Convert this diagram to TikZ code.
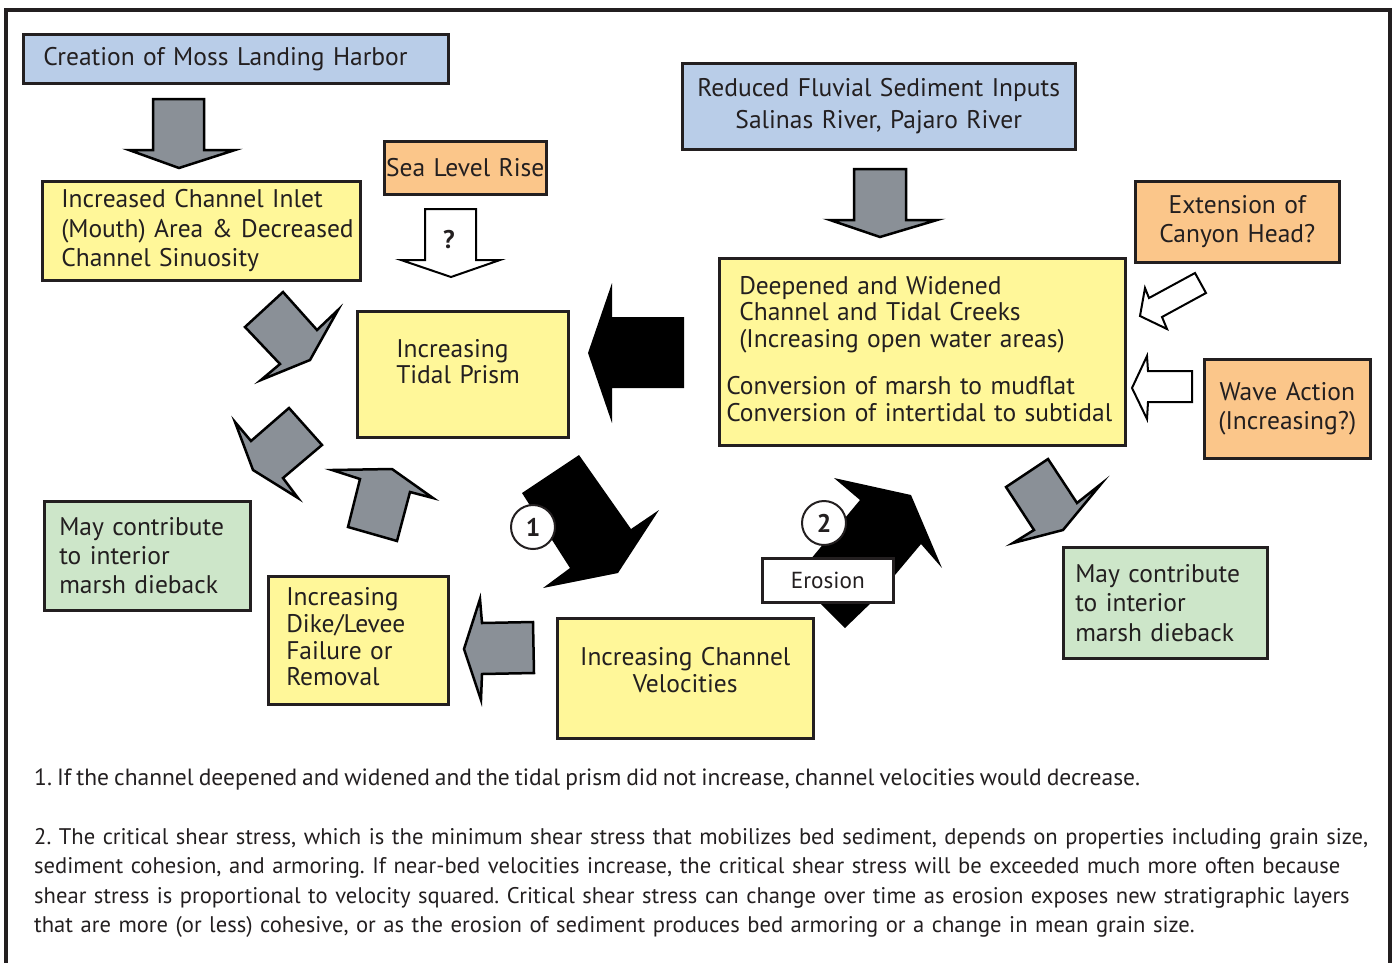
\documentclass[tikz,border=0pt]{standalone}
\usepackage{fontspec}
\setmainfont{PT Sans}[WordSpace=0.8]
\frenchspacing
\hyphenpenalty=10000

\definecolor{boxblue}{HTML}{B9CDE8}
\definecolor{boxorange}{HTML}{FBC68A}
\definecolor{boxyellow}{HTML}{FFF799}
\definecolor{boxgreen}{HTML}{CDE6C9}
\definecolor{arrowgray}{HTML}{8A9097}
\definecolor{inkdark}{HTML}{231F20}

\newcommand{\boxfont}[1][29pt]{\fontsize{25.5pt}{#1}\selectfont}
\newcommand{\notefont}[1][23.2pt]{\fontsize{#1}{29.5pt}\selectfont}
\newcommand{\lowpad}[1]{\rule[-#1]{0pt}{#1}}

\tikzset{
  box/.style={draw=inkdark, line width=2.5pt, anchor=north west,
    inner xsep=4pt, inner ysep=0pt, text=inkdark},
  frame/.style={draw=inkdark, line width=4pt},
  grayarrow/.style={fill=arrowgray, draw=black, line width=2.5pt, line join=miter},
  blackarrow/.style={fill=black},
  whitearrow/.style={fill=white, draw=black, line width=2pt, line join=miter},
  numcircle/.style={circle, draw=inkdark, line width=2pt, fill=white,
    minimum size=44pt, inner sep=0pt, font=\boxfont\bfseries, text=inkdark},
  note/.style={inner sep=0pt, text=inkdark},
}

\begin{document}
\begin{tikzpicture}[x=1pt, y=-1pt]
    %% Moss Landing channel feedbacks

    \useasboundingbox (0,0) rectangle (1395,962);
    \draw[frame] (6,975) -- (6,10) -- (1390,10) -- (1390,975);

    % Block arrows, left loop
    \draw[grayarrow] (153,99) -- (204,99) -- (204,150) -- (235,150) -- (179,168) -- (129,150) -- (153,150) -- cycle;
    \draw[whitearrow] (425,209) -- (476,209) -- (476,260) -- (500,260) -- (451,277) -- (401,260) -- (425,260) -- cycle;
    \draw[grayarrow] (283,292) -- (317,330) -- (338,310) -- (310,360) -- (261,380) -- (280,364) -- (245,327) -- cycle;
    \draw[grayarrow] (289,408) -- (322,445) -- (283,478) -- (298,498) -- (253,470) -- (235,422) -- (251,441) -- cycle;
    \draw[grayarrow] (332,470) -- (392,469) -- (433,498) -- (410,492) -- (397,541) -- (348,527) -- (360,479) -- cycle;
    \draw[grayarrow] (480,599) -- (482,623) -- (533,622) -- (534,673) -- (482,674) -- (481,700) -- (464,649) -- cycle;
    \fill[blackarrow] (684,317) -- (684,388) -- (612,388) -- (612,423) -- (588,353) -- (612,283) -- (612,317) -- cycle;
    \fill[blackarrow] (579,455) -- (631,529) -- (659,510) -- (618,573) -- (543,588) -- (570,568) -- (522,493) -- cycle;

    % Block arrows, right side
    \draw[grayarrow] (854,169) -- (906,169) -- (906,220) -- (937,220) -- (880,237) -- (830,220) -- (854,220) -- cycle;
    \fill[blackarrow] (834,478) -- (911,495) -- (942,568) -- (921,544) -- (874,600) -- (845,628) -- (795,578) -- (860,500) -- cycle;
    \draw[grayarrow] (1048,459) -- (1077,503) -- (1101,484) -- (1063,530) -- (1013,543) -- (1034,530) -- (1006,487) -- cycle;
    \draw[whitearrow] (1195,273) -- (1206,293) -- (1162,317) -- (1167,329) -- (1140,316) -- (1145,288) -- (1149,298) -- cycle;
    \draw[whitearrow] (1147,356) -- (1148,371) -- (1192,371) -- (1192,402) -- (1148,402) -- (1147,419) -- (1132,388) -- cycle;
    \node[font=\boxfont\bfseries, text=inkdark] (query) at (449,240) {?};

    % Boxes
    \node[box, fill=boxblue, text width=417pt, minimum height=49pt,
      align=left, font=\boxfont] (creation) at (22,33)
      {\leftskip=16pt Creation of Moss Landing Harbor\par};
    \node[box, fill=boxblue, text width=385pt, minimum height=86pt,
      align=center, font={\boxfont[32pt]}] (fluvial) at (681,62)
      {Reduced Fluvial Sediment Inputs\\Salinas River, Pajaro River};
    \node[box, fill=boxorange, text width=162pt, inner xsep=0pt, minimum height=53pt,
      align=center, font=\boxfont] (sealevel) at (383,140) {Sea Level Rise};
    \node[box, fill=boxyellow, text width=310pt, minimum height=99pt,
      align=left, font={\boxfont[29.5pt]}] (inlet) at (41,180)
      {\leftskip=15pt Increased Channel Inlet\\\mbox{(Mouth) Area \& Decreased}\\Channel Sinuosity\par};
    \node[box, fill=boxorange, text width=196pt, minimum height=81pt,
      align=center, font=\boxfont] (canyon) at (1134,180) {Extension of\\Canyon Head?};
    \node[box, fill=boxyellow, text width=203pt, minimum height=126pt,
      align=left, font={\boxfont[26pt]}] (prism) at (356,310)
      {\leftskip=35pt Increasing\\Tidal Prism\lowpad{26pt}\par};
    \node[box, fill=boxyellow, text width=398pt, minimum height=187pt,
      align=left, font={\boxfont[26.5pt]}] (deepened) at (718,257)
      {\leftskip=3pt
       \hspace*{13pt}Deepened and Widened\\
       \hspace*{13pt}Channel and Tidal Creeks\\
       \hspace*{13pt}(Increasing open water areas)\\[21pt]
       Conversion of marsh to mudflat\\
       Conversion of intertidal to subtidal\lowpad{6pt}\par};
    \node[box, fill=boxorange, text width=158pt, minimum height=99pt,
      align=center, font=\boxfont] (wave) at (1203,358) {Wave Action\\(Increasing?)};
    \node[box, fill=boxgreen, text width=198pt, minimum height=109pt,
      align=left, font=\boxfont] (diebackL) at (43,500)
      {\leftskip=11pt May contribute\\to interior\\marsh dieback\par};
    \node[box, fill=boxyellow, text width=172pt, minimum height=128pt,
      align=left, font={\boxfont[26.7pt]}] (dike) at (267,575)
      {\leftskip=14pt Increasing\\Dike/Levee\\Failure or\\Removal\lowpad{7pt}\par};
    \node[box, fill=boxyellow, text width=248pt, minimum height=120pt,
      align=center, font={\boxfont[27pt]}] (velocity) at (556,617)
      {Increasing Channel\\Velocities\lowpad{16pt}};
    \node[box, fill=white, text width=123pt, minimum height=44pt,
      align=center, font=\notefont] (erosion) at (761,557) {Erosion};
    \node[box, fill=boxgreen, text width=196pt, minimum height=111pt,
      align=left, font={\boxfont[29.5pt]}] (diebackR) at (1062,546)
      {\leftskip=8pt May contribute\\to interior\\marsh dieback\par};

    % Numbers
    \node[numcircle] (one) at (533,527) {1};
    \node[numcircle] (two) at (824,523) {2};

    % Notes
    \node[note, font={\notefont[23.5pt]}, anchor=base west] (note1) at (34,785)
      {1. If the channel deepened and widened and the tidal prism did not increase, channel velocities would decrease.};
    \node[note, font={\notefont[22.6pt]}, anchor=base west, text width=1400pt, align=left] (note2) at (34,844)
      {2. The critical shear stress, which is the minimum shear stress that mobilizes bed sediment, depends on properties including grain size,\\
       sediment cohesion, and armoring. If near-bed velocities increase, the critical shear stress will be exceeded much more often because\\
       shear stress is proportional to velocity squared. Critical shear stress can change over time as erosion exposes new stratigraphic layers\\
       that are more (or less) cohesive, or as the erosion of sediment produces bed armoring or a change in mean grain size.};

\end{tikzpicture}
\end{document}
